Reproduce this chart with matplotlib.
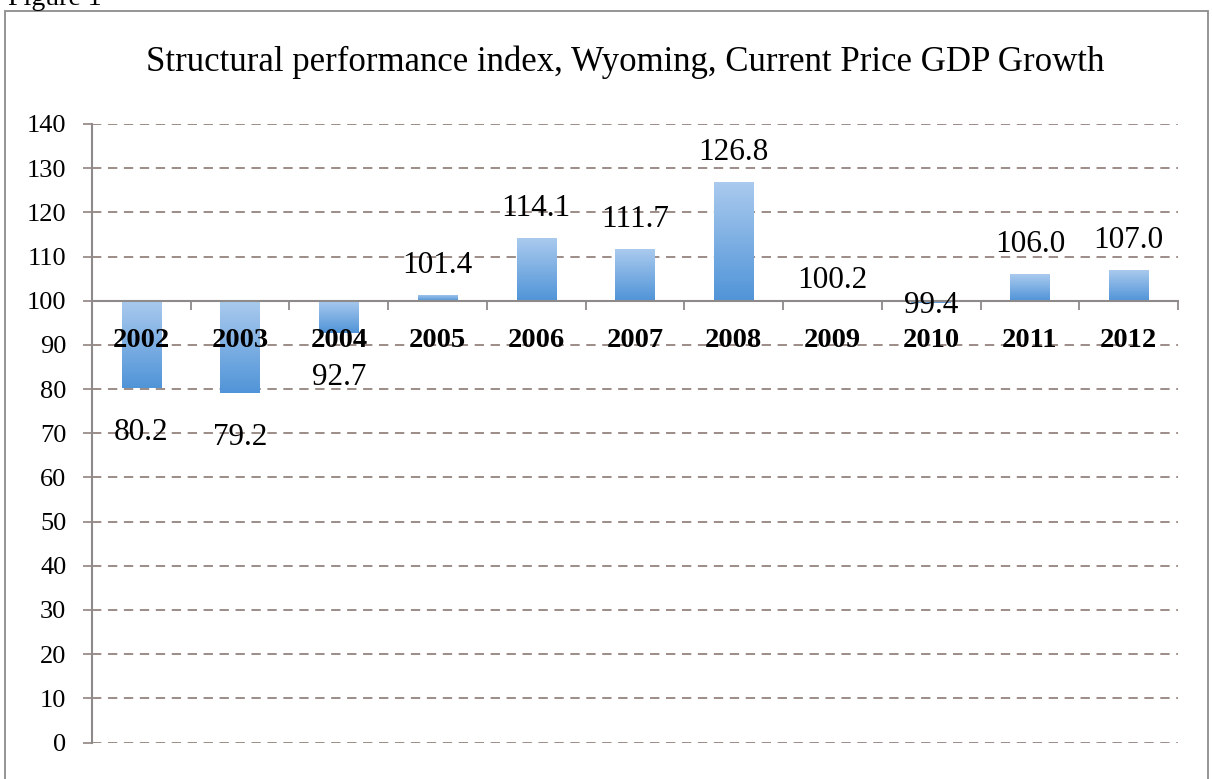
import matplotlib
matplotlib.use("Agg")
import matplotlib.pyplot as plt
from matplotlib.patches import Rectangle
from matplotlib.colors import LinearSegmentedColormap
import numpy as np

# data
years = ["2002", "2003", "2004", "2005", "2006", "2007",
         "2008", "2009", "2010", "2011", "2012"]
index_values = [80.2, 79.2, 92.7, 101.4, 114.1, 111.7,
                126.8, 100.2, 99.4, 106.0, 107.0]
base = 100
y_ticks = list(range(0, 150, 10))

plt.rcParams['font.family'] = ['Liberation Serif', 'DejaVu Serif']

fig = plt.figure(figsize=(12.12, 7.79), dpi=100)
ax = fig.add_axes([92/1212, 1 - 742.5/779, (1178-92)/1212, (742.5-124)/779])

# spines first: moving a spine resets the ticks
for s in ['top', 'right']:
    ax.spines[s].set_visible(False)
ax.spines['bottom'].set_position(('data', base))
ax.spines['bottom'].set_color('#8f8a8a')
ax.spines['bottom'].set_linewidth(1.5)
ax.spines['bottom'].set_zorder(4)
ax.spines['left'].set_color('#8f8a8a')
ax.spines['left'].set_linewidth(1.5)

x = np.arange(len(years))
deltas = [v - base for v in index_values]
bars = ax.bar(x, deltas, bottom=base, width=0.4, color='none',
              edgecolor='none', zorder=3)

# vertical gradient in each bar: light on top, darker at the bottom
cmap = LinearSegmentedColormap.from_list("barfill", ["#5094D8", "#AACAEE"])
grad = np.linspace(0, 1, 256).reshape(-1, 1)
for b in bars:
    x0 = b.get_x()
    x1 = x0 + b.get_width()
    y0 = b.get_y()
    y1 = y0 + b.get_height()
    lo, hi = min(y0, y1), max(y0, y1)
    im = ax.imshow(grad, cmap=cmap, extent=(x0, x1, lo, hi), origin='lower',
                   aspect='auto', zorder=3, interpolation='bilinear')
    im.set_clip_path(b)

px = 72 / 100

# data labels
for xi, v, d in zip(x, index_values, deltas):
    yv = base + d
    if d >= 0:
        off = 12 if d < 1 else 22
    else:
        off = -10 if d > -1 else -52
    ax.annotate(f"{v:.1f}", (xi, yv), xytext=(0, off * px),
                textcoords='offset points', ha='center', va='baseline',
                fontsize=22.5, color='black', zorder=5)

# category labels sit under the 100 line, drawn over the bars
for xi, yr in zip(x, years):
    ax.annotate(yr, (xi, base), xytext=(0, -40 * px),
                textcoords='offset points', ha='center', va='center',
                fontsize=20.5, fontweight='bold', color='black', zorder=6)

ax.set_xlim(-0.5, len(years) - 0.5)
ax.set_ylim(0, 140)
ax.set_yticks(y_ticks)
ax.set_yticklabels([str(t) for t in y_ticks], fontsize=19)

ax.set_xticks(x)
ax.set_xticklabels([])
ax.set_xticks(np.arange(-0.5, len(years)), minor=True)
ax.tick_params(axis='x', which='major', length=0)
ax.tick_params(axis='x', which='minor', length=6.5, width=1.3,
               color='#8f8a8a', direction='out')
ax.tick_params(axis='y', length=6.5, width=1.3, color='#9a8e8b',
               direction='out', pad=12)

ax.yaxis.grid(True, color='#9c8c88', linewidth=1.4,
              linestyle=(0, (4.8, 3.4)), zorder=0)
ax.set_axisbelow(True)

# title and the frame round the chart
fig.text(625/1212, 1 - 62/779,
         "Structural performance index, Wyoming, Current Price GDP Growth",
         ha='center', va='center', fontsize=25)
fig.patches.append(Rectangle((5/1212, -0.01), 1203/1212, 1 - 11/779 + 0.01,
                             transform=fig.transFigure, fill=False,
                             edgecolor='#8c8c8c', linewidth=1.3))
fig.text(8/1212, 1 - 5/779, "Figure 1", ha='left', va='baseline',
         fontsize=20)

fig.savefig("out.png", dpi=100)
